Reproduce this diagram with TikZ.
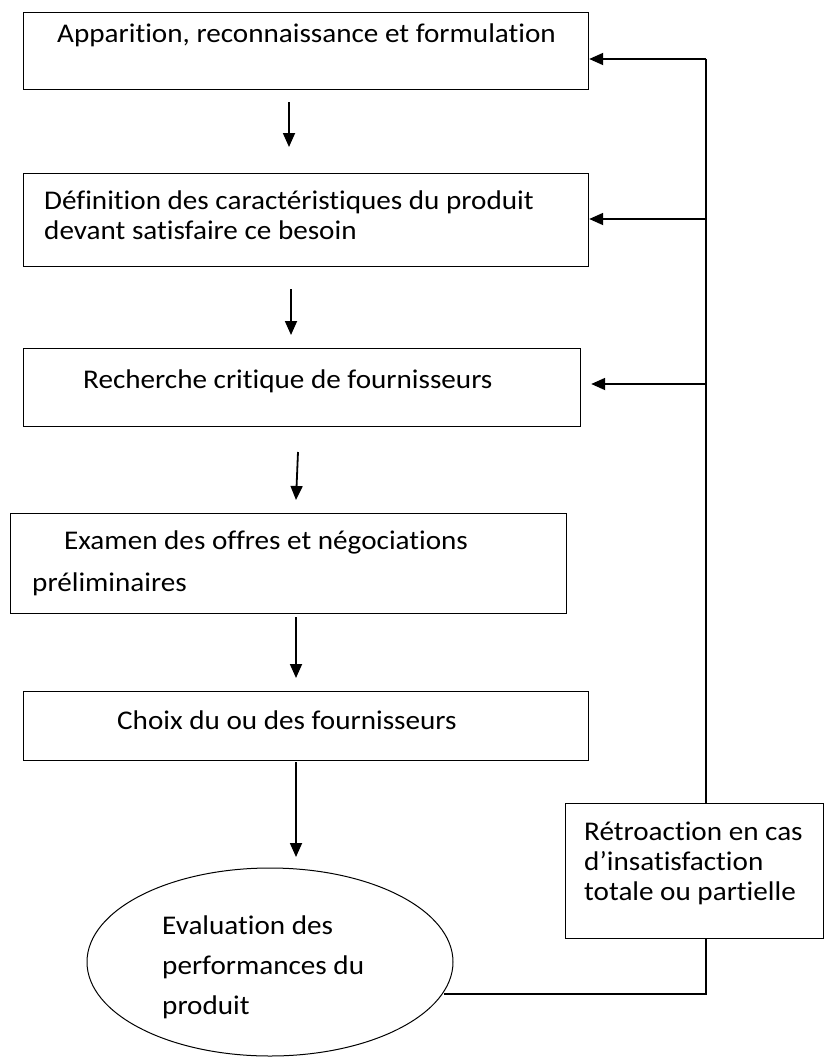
\documentclass[tikz,border=0pt]{standalone}
\usepackage{fontspec}
\setmainfont{Carlito}[Ligatures=NoCommon]
\usepackage{graphicx}
\usetikzlibrary{arrows.meta,shapes.geometric}
\newcommand{\Wtxt}[2][30]{\scalebox{1.08}[1]{\fontsize{27}{#1}\selectfont\begin{tabular}[t]{@{}l@{}}#2\end{tabular}}}
\begin{document}
\begin{tikzpicture}[x=1pt,y=1pt,
  box/.style={draw, line width=1.2pt, rectangle, inner sep=0, anchor=north west},
  txt/.style={inner sep=0, anchor=base west},
  arr/.style={line width=1.8pt, -{Triangle[length=14pt,width=12pt]}},
  thin/.style={line width=1.1pt},
  thick/.style={line width=1.8pt}]
\useasboundingbox (0,0) rectangle (837,-1057);
% boxes
\node[box, minimum width=565pt, minimum height=77pt] (b1) at (23,-12) {};
\node[box, minimum width=565pt, minimum height=93pt] (b2) at (23,-173) {};
\node[box, minimum width=557pt, minimum height=78pt] (b3) at (23,-348) {};
\node[box, minimum width=556pt, minimum height=100pt] (b4) at (10,-513) {};
\node[box, minimum width=565pt, minimum height=69pt] (b5) at (23,-691) {};
\node[draw, line width=1pt, ellipse, inner sep=0, minimum width=366pt, minimum height=188pt] (ell) at (270,-962) {};
\node[box, line width=1pt, minimum width=258pt, minimum height=135pt] (fbx) at (565,-803) {};
% texts
\node[txt] (t1) at (57,-43) {\Wtxt{Apparition, reconnaissance et formulation}};
\node[txt] (t2) at (44,-209) {\Wtxt{Définition des caractéristiques du produit\\devant satisfaire ce besoin}};
\node[txt] (t3) at (83,-388) {\Wtxt{Recherche critique de fournisseurs}};
\node[txt] (t4) at (32,-549) {\Wtxt[42]{\hspace*{29.6pt}Examen des offres et négociations\\préliminaires}};
\node[txt] (t5) at (117,-729) {\Wtxt{Choix du ou des fournisseurs}};
\node[txt] (t6) at (162,-934) {\Wtxt[40]{Evaluation des\\performances du\\produit}};
\node[txt] (t7) at (584,-840) {\Wtxt{Rétroaction en cas\\d’insatisfaction\\totale ou partielle}};
% downward arrows
\coordinate (a1s) at (289,-102); \coordinate (a1e) at (289,-147);
\coordinate (a2s) at (291,-289); \coordinate (a2e) at (291,-335);
\coordinate (a3s) at (298,-452); \coordinate (a3e) at (296,-500);
\coordinate (a4s) at (296,-617); \coordinate (a4e) at (296,-678);
\coordinate (a5s) at (296,-762); \coordinate (a5e) at (296,-857);
\draw[arr] (a1s) -- (a1e);
\draw[arr] (a2s) -- (a2e);
\draw[arr] (a3s) -- (a3e);
\draw[arr] (a4s) -- (a4e);
\draw[arr] (a5s) -- (a5e);
% feedback loop
\coordinate (v1) at (706,-59);
\coordinate (v2) at (706,-219);
\coordinate (v3) at (706,-384);
\coordinate (vb) at (706,-994);
\draw[arr] (v1) -- (v1 -| b1.east);
\draw[arr] (v2) -- (v2 -| b2.east);
\draw[arr] (v3) -- ([xshift=10pt]v3 -| b3.east);
\draw[thick] (v1) -- (v2);
\draw[thin] (v2) -- (v2 |- fbx.north);
\draw[thick] (vb |- fbx.south) -- (vb) -- (vb -| ell.-10.5);
\end{tikzpicture}
\end{document}
